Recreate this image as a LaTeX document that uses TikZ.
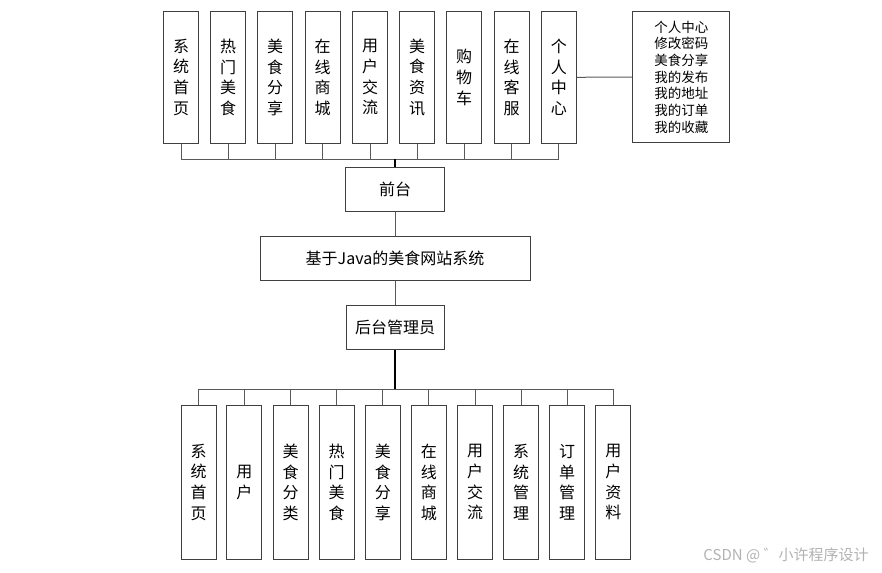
\documentclass[tikz,border=0pt]{standalone}
\usepackage{fontspec}
\setmainfont{Noto Sans CJK SC}
\begin{document}
\begin{tikzpicture}[x=1pt,y=-1pt,
  box/.style={draw=black!75,line width=1pt,fill=white,inner sep=0pt,align=center},
  vbox/.style={box,minimum width=35pt,font=\fontsize{16}{20.7}\selectfont},
  topv/.style={vbox,minimum height=132pt},
  botv/.style={vbox,minimum height=154pt},
  hbox/.style={box,minimum height=44pt,font=\fontsize{16}{20}\selectfont},
  conn/.style={draw=black!65,line width=1pt},
  trunk/.style={draw=black,line width=2pt}]
\useasboundingbox (0,0) rectangle (882,572);
% top row
\node[topv] (t1) at (181,77.3) {系\\统\\首\\页};
\node[topv] (t2) at (228,77.3) {热\\门\\美\\食};
\node[topv] (t3) at (275,77.3) {美\\食\\分\\享};
\node[topv] (t4) at (322.7,77.3) {在\\线\\商\\城};
\node[topv] (t5) at (370,77.3) {用\\户\\交\\流};
\node[topv] (t6) at (417,77.3) {美\\食\\资\\讯};
\node[topv] (t7) at (464.2,77.3) {购\\物\\车};
\node[topv] (t8) at (511.7,77.3) {在\\线\\客\\服};
\node[topv] (t9) at (558.8,77.3) {个\\人\\中\\心};
\node[box,minimum width=97pt,minimum height=131pt,font=\fontsize{13.5}{16.7}\selectfont] (pc) at (681.4,77) {个人中心\\修改密码\\美食分享\\我的发布\\我的地址\\我的订单\\我的收藏};
% middle
\node[hbox,minimum width=98.6pt] (qt) at (395,189.3) {前台};
\node[hbox,minimum width=270pt] (sys) at (395,258.7) {基于Java的美食网站系统};
\node[hbox,minimum width=98pt] (ht) at (395,327.5) {后台管理员};
% bottom row
\node[botv] (b1) at (198.5,482.3) {系\\统\\首\\页};
\node[botv] (b2) at (244.4,482.3) {用\\户};
\node[botv] (b3) at (290.6,482.3) {美\\食\\分\\类};
\node[botv] (b4) at (336.7,482.3) {热\\门\\美\\食};
\node[botv] (b5) at (382.8,482.3) {美\\食\\分\\享};
\node[botv] (b6) at (428.8,482.3) {在\\线\\商\\城};
\node[botv] (b7) at (475,482.3) {用\\户\\交\\流};
\node[botv] (b8) at (521,482.3) {系\\统\\管\\理};
\node[botv] (b9) at (567.2,482.3) {订\\单\\管\\理};
\node[botv] (b10) at (613.3,482.3) {用\\户\\资\\料};
% connectors top
\coordinate (tb) at (395,159.3);
\foreach \i in {1,...,9} {\draw[conn] (t\i.south) -- (t\i.south |- tb);}
\draw[conn] (t1.south |- tb) -- (t9.south |- tb);
\draw[trunk] (tb) -- (qt.north);
\draw[conn] (t9.east) -- (pc.west);
\draw[conn] (qt.south) -- (sys.north);
\draw[conn] (sys.south) -- (ht.north);
% connectors bottom
\coordinate (bb) at (395,389);
\foreach \i in {1,...,10} {\draw[conn] (b\i.north) -- (b\i.north |- bb);}
\draw[conn] (b1.north |- bb) -- (b10.north |- bb);
\draw[trunk] (ht.south) -- (bb);
% watermark
\node[text=black!30,font=\fontsize{15}{17}\selectfont,inner sep=0pt] (wm) at (786,555) {CSDN @ ゛小许程序设计};
\end{tikzpicture}
\end{document}
